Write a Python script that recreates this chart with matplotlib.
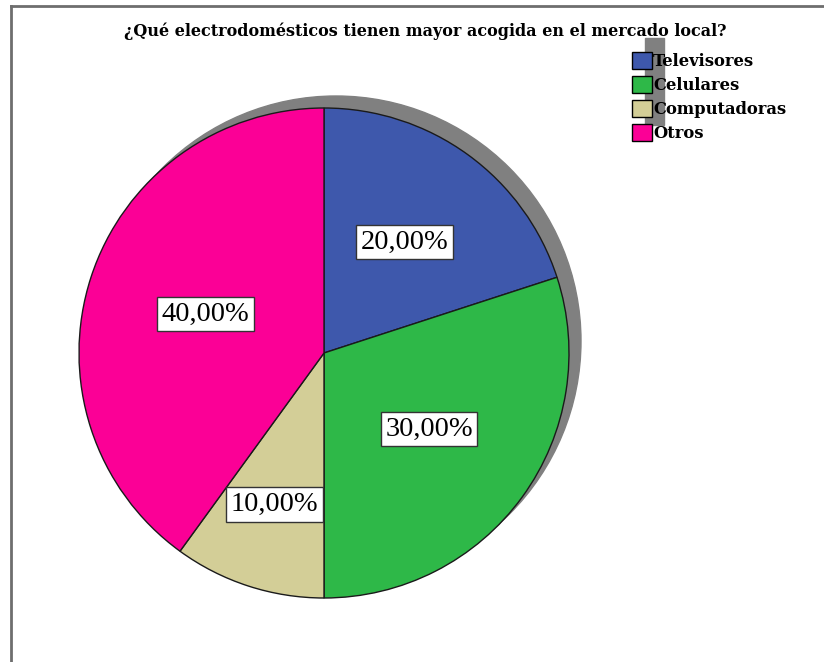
import matplotlib
matplotlib.use("Agg")
import numpy as np
import matplotlib.pyplot as plt
from matplotlib.patches import Circle, Rectangle
from matplotlib.lines import Line2D

# datos
categorias = ["Televisores", "Celulares", "Computadoras", "Otros"]
porcentajes = [20, 30, 10, 40]
colores = ["#3E58AC", "#2EB848", "#D3CE97", "#FB0096"]
titulo = "¿Qué electrodomésticos tienen mayor acogida en el mercado local?"

# distancia radial de cada etiqueta (estilo)
dist_etiquetas = [0.56, 0.53, 0.65, 0.51]

W, H = 824, 662
fig = plt.figure(figsize=(W / 100, H / 100), dpi=100)
fig.patch.set_facecolor("white")

# borde del grafico (arriba e izquierda)
fig.add_artist(Line2D([11 / W, 1], [1 - 6 / H, 1 - 6 / H], color="#6e6e6e", lw=2))
fig.add_artist(Line2D([11 / W, 11 / W], [0, 1 - 6 / H], color="#6e6e6e", lw=2))

# centro (324,353) radio 245 px
cx, cy, r = 324, 353, 245
lado = 270
ax = fig.add_axes([(cx - lado) / W, (H - cy - lado) / H, 2 * lado / W, 2 * lado / H])
lim = lado / r
ax.set_aspect("equal")
ax.axis("off")

# sombra
off = 12 / r
ax.add_patch(Circle((off, off), 1, color="#808080", zorder=0))

wedges, textos, pcts = ax.pie(
    porcentajes, colors=colores, startangle=90, counterclock=False,
    radius=1, autopct=lambda p: f"{p:.2f}%".replace(".", ","),
    wedgeprops=dict(edgecolor="#1a1a1a", linewidth=1),
    textprops=dict(fontsize=20.5, family="Liberation Serif", color="black"),
    frame=False,
)
for w, t, d in zip(wedges, pcts, dist_etiquetas):
    w.set_zorder(2)
    ang = np.deg2rad((w.theta1 + w.theta2) / 2)
    t.set_position((d * np.cos(ang), d * np.sin(ang)))
    t.set_zorder(5)
    t.set_bbox(dict(boxstyle="square,pad=0.16", facecolor="white", edgecolor="#333333", linewidth=1))
ax.set_xlim(-lim, lim)
ax.set_ylim(-lim, lim)

# titulo
fig.text(425 / W, 1 - 31 / H, titulo, ha="center", va="center",
         fontsize=11.5, fontweight="bold", family="DejaVu Serif")

# franja gris detras de la leyenda
fig.add_artist(Rectangle((645 / W, 1 - 125 / H), 19 / W, 87 / H,
                         transform=fig.transFigure, color="#808080", zorder=0))

leg = fig.legend(wedges, categorias, loc="upper left",
                 bbox_to_anchor=(632 / W, 1 - 52 / H), frameon=False,
                 prop=dict(family="DejaVu Serif", weight="bold", size=11.8),
                 handlelength=1.2, handleheight=1.2, handletextpad=0.1,
                 labelspacing=0.38, borderpad=0, borderaxespad=0)
for h in leg.legend_handles:
    h.set_edgecolor("black")
    h.set_linewidth(1)

fig.savefig("out.png", dpi=100)
